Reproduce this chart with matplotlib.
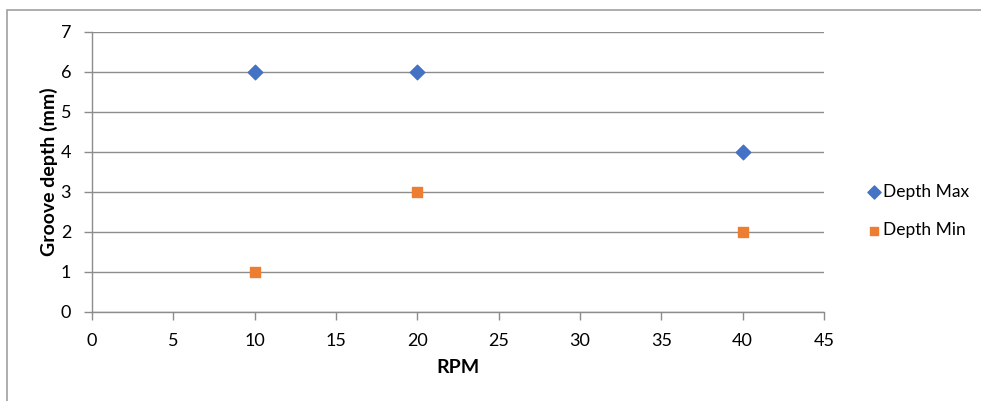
import matplotlib
matplotlib.use("Agg")
import matplotlib.pyplot as plt
from matplotlib.patches import Rectangle

# datos de profundidad de ranura
rpm = [10, 20, 40]
depth_max = [6, 6, 4]
depth_min = [1, 3, 2]

x_ticks = [0, 5, 10, 15, 20, 25, 30, 35, 40, 45]
y_ticks = [0, 1, 2, 3, 4, 5, 6, 7]

plt.rcParams['font.family'] = ['Lato', 'DejaVu Sans']

fig = plt.figure(figsize=(9.81, 4.01), dpi=100)
ax = fig.add_axes([92 / 981, 1 - 312 / 401, (824 - 92) / 981, (312 - 32) / 401])

# marco exterior gris del grafico
fig.patches.append(Rectangle((7 / 981, -0.02), 1.0, 1 - 9.5 / 401 + 0.02,
                             transform=fig.transFigure, fill=False,
                             edgecolor='#a0a0a0', linewidth=1.2))

ax.scatter(rpm, depth_max, marker='D', s=55, color='#4472C4', label='Depth Max', zorder=3)
ax.scatter(rpm, depth_min, marker='s', s=50, color='#ED7D31', label='Depth Min', zorder=3)

ax.set_xlim(0, 45)
ax.set_ylim(0, 7)
ax.set_xticks(x_ticks)
ax.set_yticks(y_ticks)
ax.grid(axis='y', color='#8c8c8c', linewidth=1.0)
ax.set_axisbelow(True)

for side in ['top', 'right']:
    ax.spines[side].set_visible(False)
for side in ['left', 'bottom']:
    ax.spines[side].set_color('#8c8c8c')
    ax.spines[side].set_linewidth(1.0)

ax.tick_params(axis='both', colors='#8c8c8c', labelcolor='black', labelsize=13,
               length=6, width=1.0)
ax.tick_params(axis='x', pad=9)
ax.tick_params(axis='y', pad=9)

ax.set_xlabel('RPM', fontsize=14, fontweight='bold', labelpad=7)
ax.set_ylabel('Groove depth (mm)', fontsize=14, fontweight='bold', labelpad=2)

# leyenda a la derecha, centrada en la altura de la figura
leg = fig.legend(*ax.get_legend_handles_labels(), loc='center left',
                 bbox_to_anchor=(867 / 981, 1 - 211 / 401), frameon=False,
                 fontsize=12.5, handlelength=0.8, handletextpad=0.1,
                 labelspacing=1.3, markerscale=0.9, borderpad=0.0,
                 borderaxespad=0.0)

fig.savefig('out.png', dpi=100)
